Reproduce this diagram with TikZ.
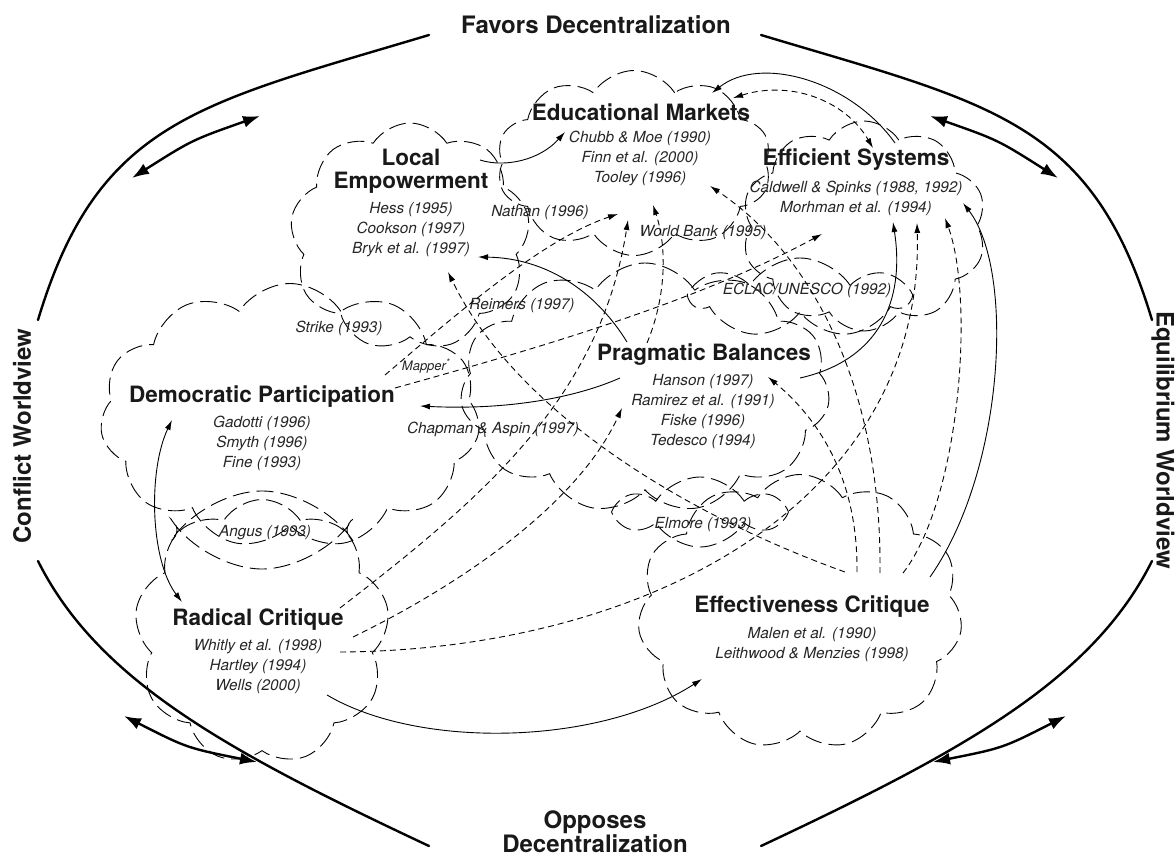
\documentclass[tikz,border=0pt]{standalone}
\usepackage{fontspec}
\setmainfont{TeX Gyre Heros}
\usetikzlibrary{arrows.meta,shapes.symbols}
\begin{document}
\begin{tikzpicture}[x=1pt,y=-1pt,
  outer/.style={line width=2.4pt, line cap=round},
  dbl/.style={line width=2.4pt, {Latex[length=17pt,width=12pt]}-{Latex[length=17pt,width=12pt]}},
  sarr/.style={line width=0.9pt, -{Latex[length=10pt,width=6pt]}},
  darr/.style={line width=0.9pt, dash pattern=on 6pt off 4pt, -{Latex[length=10pt,width=6pt]}},
  cl/.style={draw, cloud, cloud ignores aspect, cloud puff arc=115, line width=0.9pt, dash pattern=on 17pt off 7pt, inner sep=0pt},
  big/.style={font=\bfseries\fontsize{24}{22}\selectfont, inner sep=0pt, text=black!90},
  ttl/.style={font=\bfseries\fontsize{22.5}{23}\selectfont, align=center, inner sep=0pt, text=black!90},
  cit/.style={font=\itshape\fontsize{15.3}{20}\selectfont, align=center, inner sep=0pt, text=black!85}
]
\useasboundingbox (0,0) rectangle (1176,859);

% outer arcs
\draw[outer] (38,320) .. controls (98,120) and (199,104) .. (429,35);
\draw[outer] (1152,320) .. controls (1092,120) and (991,104) .. (761,35);
\draw[outer] (38,561) .. controls (98,681) and (229,752) .. (429,846);
\draw[outer] (1152,561) .. controls (1092,681) and (961,752) .. (761,846);

% double arrows
\coordinate (tl1) at (132,178); \coordinate (tl2) at (260,116);
\coordinate (tr1) at (930,116); \coordinate (tr2) at (1058,178);
\coordinate (bl1) at (124,716); \coordinate (bl2) at (257,762);
\coordinate (br1) at (933,762); \coordinate (br2) at (1066,716);
\draw[dbl] (tl1) .. controls (192,140) .. (tl2);
\draw[dbl] (tr1) .. controls (998,140) .. (tr2);
\draw[dbl] (bl1) .. controls (187,748) .. (bl2);
\draw[dbl] (br1) .. controls (1003,748) .. (br2);

% clouds
\node[cl, cloud puffs=9,  minimum width=240pt, minimum height=228pt] (cLE) at (410,237) {};
\node[cl, cloud puffs=10, minimum width=275pt, minimum height=185pt] (cEM) at (634,163) {};
\node[cl, cloud puffs=10, minimum width=245pt, minimum height=210pt] (cES) at (864,226) {};
\node[cl, cloud puffs=11, minimum width=380pt, minimum height=265pt] (cDP) at (290,416) {};
\node[cl, cloud puffs=11, minimum width=370pt, minimum height=250pt] (cPB) at (645,388) {};
\node[cl, cloud puffs=9,  minimum width=255pt, minimum height=265pt] (cRC) at (262,632) {};
\node[cl, cloud puffs=11, minimum width=325pt, minimum height=275pt] (cEC) at (800,612) {};
\node[cl, cloud puffs=7,  minimum width=215pt, minimum height=80pt] (cEU) at (800,298) {};
\node[cl, cloud puffs=4,  minimum width=170pt, minimum height=78pt] (cAN) at (262,530) {};
\node[cl, cloud puffs=6,  minimum width=160pt, minimum height=70pt] (cEL) at (700,512) {};

% titles
\node[big] (fav) at (596,25) {Favors Decentralization};
\node[big, align=center] (opp) at (595,832) {Opposes\\Decentralization};
\node[big, rotate=90] (cw) at (22,436) {Conflict Worldview};
\node[big, rotate=-90] (ew) at (1163,440) {Equilibrium Worldview};

% cloud texts
\node[ttl] (le) at (411,171.5) {Local\\Empowerment};
\node[cit] (lec) at (411,230) {Hess (1995)\\Cookson (1997)\\Bryk et al. (1997)};
\node[ttl] (em) at (641,112) {Educational Markets};
\node[cit] (emc) at (640,158) {Chubb \& Moe (1990)\\Finn et al. (2000)\\Tooley (1996)};
\node[ttl] (es) at (856,160) {Efficient Systems};
\node[cit] (esc) at (856,198) {Caldwell \& Spinks (1988, 1992)\\Morhman et al. (1994)};
\node[ttl] (pb) at (704,355) {Pragmatic Balances};
\node[cit] (pbc) at (703,412) {Hanson (1997)\\Ramirez et al. (1991)\\Fiske (1996)\\Tedesco (1994)};
\node[ttl] (dp) at (262,397) {Democratic Participation};
\node[cit] (dpc) at (262,443) {Gadotti (1996)\\Smyth (1996)\\Fine (1993)};
\node[ttl] (rc) at (258,620) {Radical Critique};
\node[cit] (rcc) at (258,667) {Whitly et al. (1998)\\Hartley (1994)\\Wells (2000)};
\node[ttl] (ec) at (812,607) {Effectiveness Critique};
\node[cit] (ecc) at (812,645) {Malen et al. (1990)\\Leithwood \& Menzies (1998)};

% floating citations
\node[cit] (nat) at (540,213) {Nathan (1996)};
\node[cit] (wb) at (703,233) {World Bank (1995)};
\node[cit] (rei) at (522,306) {Reimers (1997)};
\node[cit] (str) at (339,328) {Strike (1993)};
\node[cit] (ecl) at (807,290) {ECLAC/UNESCO (1992)};
\node[cit] (cha) at (493,429) {Chapman \& Aspin (1997)};
\node[cit] (ang) at (265,533) {Angus (1993)};
\node[cit] (elm) at (703,525) {Elmore (1993)};
\node[font=\itshape\fontsize{13}{15}\selectfont, inner sep=0pt, text=black!85] (map) at (426,366) {Mapper\textsuperscript{*}};

% connector end points
\coordinate (a1s) at (480,160); \coordinate (a1e) at (565,132);
\coordinate (a2s) at (895,143); \coordinate (a2e) at (712,93);
\coordinate (a3s) at (627,342); \coordinate (a3e) at (478,257);
\coordinate (a4s) at (620,378); \coordinate (a4e) at (420,406);
\coordinate (a5s) at (800,378); \coordinate (a5e) at (893,222);
\coordinate (a6s) at (930,577); \coordinate (a6e) at (963,203);
\coordinate (a7s) at (327,695); \coordinate (a7e) at (702,679);
\coordinate (a8s) at (172,420); \coordinate (a8e) at (182,602);
\coordinate (d1s) at (733,98);  \coordinate (d1e) at (873,148);
\coordinate (d2s) at (880,573); \coordinate (d2e) at (710,186);
\coordinate (d3s) at (857,572); \coordinate (d3e) at (768,377);
\coordinate (d4s) at (903,573); \coordinate (d4e) at (945,218);
\coordinate (d5s) at (340,652); \coordinate (d5e) at (917,223);
\coordinate (d6s) at (353,637); \coordinate (d6e) at (622,408);
\coordinate (d7s) at (340,608); \coordinate (d7e) at (628,220);
\coordinate (d8s) at (845,572); \coordinate (d8e) at (448,272);
\coordinate (d9s) at (647,343); \coordinate (d9e) at (653,205);
\coordinate (d10s) at (385,375); \coordinate (d10e) at (618,214);
\coordinate (d11s) at (395,388); \coordinate (d11e) at (822,234);

% solid connectors
\draw[sarr] (a1s) .. controls (505,168) and (540,160) .. (a1e);
\draw[sarr] (a2s) .. controls (850,80) and (760,55) .. (a2e);
\draw[sarr] (a3s) .. controls (595,290) and (545,258) .. (a3e);
\draw[sarr] (a4s) .. controls (570,400) and (500,410) .. (a4e);
\draw[sarr] (a5s) .. controls (880,360) and (905,300) .. (a5e);
\draw[sarr] (a6s) .. controls (1005,470) and (1015,270) .. (a6e);
\draw[sarr] (a7s) .. controls (420,750) and (600,745) .. (a7e);
\draw[sarr, {Latex[length=10pt,width=6pt]}-{Latex[length=10pt,width=6pt]}] (a8s) .. controls (148,470) and (150,560) .. (a8e);

% dashed connectors
\draw[darr, {Latex[length=10pt,width=6pt]}-{Latex[length=10pt,width=6pt]}] (d1s) .. controls (790,80) and (845,100) .. (d1e);
\draw[darr] (d2s) .. controls (882,400) and (820,260) .. (d2e);
\draw[darr] (d3s) .. controls (858,480) and (820,420) .. (d3e);
\draw[darr] (d4s) .. controls (960,500) and (975,300) .. (d4e);
\draw[darr] (d5s) .. controls (650,650) and (925,500) .. (d5e);
\draw[darr] (d6s) .. controls (470,580) and (580,500) .. (d6e);
\draw[darr] (d7s) .. controls (480,500) and (600,400) .. (d7e);
\draw[darr] (d8s) .. controls (700,520) and (520,420) .. (d8e);
\draw[darr] (d9s) .. controls (665,300) and (668,250) .. (d9e);
\draw[darr] (d10s) .. controls (450,320) and (540,240) .. (d10e);
\draw[darr] (d11s) .. controls (550,345) and (700,300) .. (d11e);
\end{tikzpicture}
\end{document}
